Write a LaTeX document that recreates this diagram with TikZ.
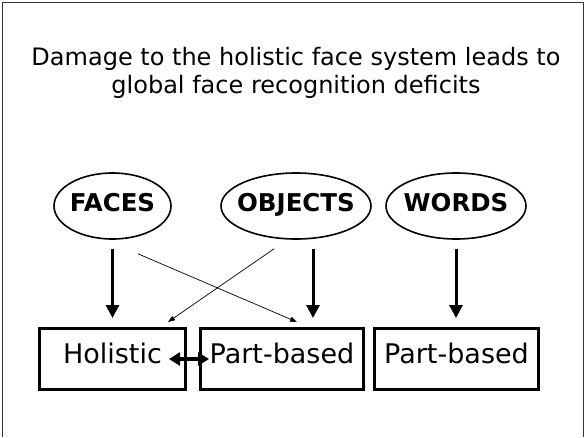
\documentclass[tikz,border=0pt]{standalone}
\usepackage{fontspec}
\setmainfont{DejaVu Sans}
\usetikzlibrary{shapes.geometric,arrows.meta}

\tikzset{
  stim/.style={ellipse, draw, line width=1.6pt, inner xsep=-30pt, inner ysep=0pt,
    minimum height=66, text depth=8pt, font=\fontsize{24.5}{26}\selectfont\bfseries},
  route/.style={rectangle, draw, line width=3pt, inner sep=0pt, minimum height=61,
    text depth=11pt, font=\fontsize{27}{29}\selectfont},
  bigarrow/.style={line width=3pt, -{Triangle[width=13pt,length=13pt]},
    shorten <=9pt, shorten >=9pt},
  thinarrow/.style={line width=0.7pt, -{Triangle[width=5pt,length=7pt]}},
  biarrow/.style={line width=4pt, {Triangle[width=13pt,length=11pt]}-{Triangle[width=13pt,length=11pt]}},
}

\begin{document}
\begin{tikzpicture}[x=1pt, y=-1pt]
\useasboundingbox (0,0) rectangle (586,437);
% slide frame (open at the bottom)
\draw[line width=1pt, black!80] (2,437) -- (2,2) -- (583,2) -- (583,437);

\node[align=center, font=\fontsize{24}{28}\selectfont] (title) at (296,73)
  {Damage to the holistic face system leads to\\global face recognition deficits};

% input categories
\node[stim, minimum width=117] (faces) at (112.5,206) {FACES};
\node[stim, minimum width=150] (objects) at (296,206) {OBJECTS};
\node[stim, minimum width=140] (words) at (456,206) {WORDS};

% recognition routes
\node[route, minimum width=146] (holistic) at (112.5,359) {Holistic};
\node[route, minimum width=163] (partobj) at (282,359) {Part-based};
\node[route, minimum width=164] (partword) at (456.5,359) {Part-based};

% main routes
\draw[bigarrow] (faces.south) -- (holistic.north);
\draw[bigarrow] ([xshift=17]objects.south) -- ([xshift=17]objects.south |- partobj.north);
\draw[bigarrow] (words.south) -- (words.south |- partword.north);

% crossed routes
\draw[thinarrow] ([shift={(25.5,14)}]faces.south) -- ([shift={(15,-5)}]partobj.north);
\draw[thinarrow] ([shift={(-22,9)}]objects.south) -- ([shift={(55.5,-5)}]holistic.north);

\draw[biarrow] ([xshift=-18]holistic.east) -- ([xshift=10]partobj.west);

\end{tikzpicture}
\end{document}
